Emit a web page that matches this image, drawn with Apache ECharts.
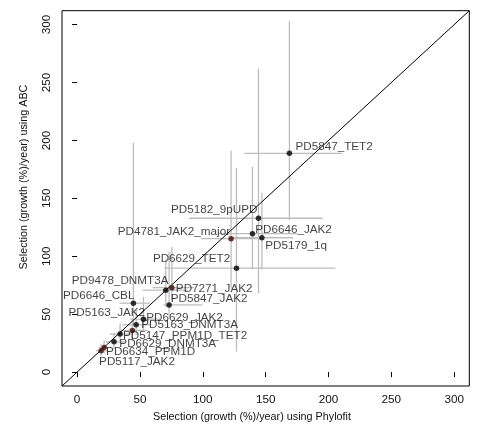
<!DOCTYPE html>
<html>
<head>
<meta charset="utf-8">
<script src="https://cdn.jsdelivr.net/npm/echarts@6/dist/echarts.min.js"></script>
<style>
  html, body { margin: 0; padding: 0; background: #fff; }
  #chart { width: 480px; height: 436px; }
</style>
</head>
<body>
<div id="chart"></div>
<script>
// Clone selection estimates: Phylofit (x) against ABC (y), with interval bars
const names = [
  'PD5847_TET2', 'PD5182_9pUPD', 'PD6646_JAK2', 'PD5179_1q', 'PD4781_JAK2_major',
  'PD6629_TET2', 'PD9478_DNMT3A', 'PD7271_JAK2', 'PD5847_JAK2', 'PD6646_CBL',
  'PD6629_JAK2', 'PD5163_DNMT3A', 'PD5163_JAK2', 'PD5147_PPM1D_TET2', 'PD6629_DNMT3A',
  'PD6634_PPM1D', 'PD5117_JAK2'
];
const phylofit     = [168.9, 144.3, 139.5, 147.0, 122.5, 126.8, 70.6, 75.4, 73.2, 44.8, 52.8, 47.0, 44.0, 34.2, 29.4, 21.5, 19.1];
const phylofitLow  = [133.2,  89.1, 112.0, 124.0,  98.4,  69.2, 52.0, 60.0, 68.7, 34.0, 42.0, 36.0, 34.0, 26.0, 23.0, 17.0, 15.0];
const phylofitHigh = [210.6, 195.2, 175.0, 172.0, 148.0, 205.3, 88.0, 93.0, 99.7, 58.0, 66.0, 58.0, 56.0, 44.0, 38.0, 27.0, 24.0];
const abc          = [188.9, 132.8, 119.5, 116.0, 115.2,  89.7, 70.7, 72.9, 58.0, 59.5, 45.7, 40.8, 35.9, 32.8, 26.1, 21.2, 18.4];
const abcLow       = [131.3,  68.1,  88.8,  88.8,  72.0,  17.8, 56.0, 62.0, 48.0, 40.0, 36.0, 32.0, 27.0, 25.0, 20.0, 16.0, 14.0];
const abcHigh      = [303.2, 262.1, 177.3, 154.9, 191.1, 176.4, 98.0, 108.0, 104.0, 198.0, 65.0, 54.0, 46.0, 42.0, 34.0, 27.0, 24.0];
const darkRedPoints = ['PD4781_JAK2_major', 'PD7271_JAK2', 'PD5163_JAK2', 'PD6634_PPM1D', 'PD5117_JAK2'];
const tickValues = [0, 50, 100, 150, 200, 250, 300];
const axisRange = [-12, 312];

// Label placement per point: text alignment and pixel offset from the dot
const labelPlacement = {
  'PD5847_TET2':       ['left',   6,  -7],
  'PD5182_9pUPD':      ['right', -1,  -8],
  'PD6646_JAK2':       ['left',   2.7, -4.4],
  'PD5179_1q':         ['left',   3.3,  8],
  'PD4781_JAK2_major': ['right', -1,  -7],
  'PD6629_TET2':       ['right', -6.3, -9],
  'PD9478_DNMT3A':     ['right',  2.6, -9.3],
  'PD7271_JAK2':       ['left',   4,    1],
  'PD5847_JAK2':       ['left',   1.7, -6],
  'PD6646_CBL':        ['right',  1,  -7.6],
  'PD6629_JAK2':       ['left',   2.7, -1],
  'PD5163_DNMT3A':     ['left',   5,    0],
  'PD5163_JAK2':       ['right', 12.7, -17.4],
  'PD5147_PPM1D_TET2': ['left',   3,    1.5],
  'PD6629_DNMT3A':     ['left',   5.3,  1.5],
  'PD6634_PPM1D':      ['left',   2,    4.6],
  'PD5117_JAK2':       ['left',  -2,   11]
};

const FONT = '"Liberation Sans", Arial, Helvetica, sans-serif';

const barData = names.map((n, i) => [phylofit[i], abc[i], phylofitLow[i], phylofitHigh[i], abcLow[i], abcHigh[i]]);

const pointData = names.map((n, i) => {
  const p = labelPlacement[n];
  return {
    name: n,
    value: [phylofit[i], abc[i]],
    itemStyle: { color: darkRedPoints.includes(n) ? '#3c0606' : '#000' },
    label: { align: p[0], offset: [p[1], p[2]] }
  };
});

const chart = echarts.init(document.getElementById('chart'), null, { renderer: 'canvas' });

const valueAxis = (isX) => ({
  type: 'value',
  min: axisRange[0],
  max: axisRange[1],
  splitLine: { show: false },
  axisLine: { show: false },
  axisTick: {
    show: true,
    customValues: tickValues,
    length: 5,
    lineStyle: { color: '#000', width: 1 }
  },
  axisLabel: {
    customValues: tickValues,
    rotate: isX ? 0 : 90,
    margin: isX ? 8 : 9,
    color: '#111',
    fontSize: 11.7,
    fontFamily: FONT
  }
});

chart.setOption({
  animation: false,
  backgroundColor: '#fff',
  grid: {
    left: 62, right: 10.7, top: 10.7, bottom: 50,
    show: true, borderColor: '#000', borderWidth: 1
  },
  xAxis: valueAxis(true),
  yAxis: valueAxis(false),
  graphic: [
    {
      type: 'text', x: 252, y: 416.7,
      style: {
        text: 'Selection (growth (%)/year) using Phylofit',
        fill: '#111', font: '10.8px ' + FONT, align: 'center', verticalAlign: 'middle'
      }
    },
    {
      type: 'text', x: 24, y: 177, rotation: Math.PI / 2,
      style: {
        text: 'Selection (growth (%)/year) using ABC',
        fill: '#111', font: '10.8px ' + FONT, align: 'center', verticalAlign: 'middle'
      }
    }
  ],
  series: [
    {
      type: 'custom',
      data: barData,
      z: 1,
      renderItem: function (params, api) {
        const x = api.value(0), y = api.value(1);
        const a = api.coord([api.value(2), y]);
        const b = api.coord([api.value(3), y]);
        const c = api.coord([x, api.value(4)]);
        const d = api.coord([x, api.value(5)]);
        const style = { stroke: '#bdbdbd', lineWidth: 1.3 };
        return {
          type: 'group',
          children: [
            { type: 'line', shape: { x1: a[0], y1: a[1], x2: b[0], y2: b[1] }, style: style },
            { type: 'line', shape: { x1: c[0], y1: c[1], x2: d[0], y2: d[1] }, style: style }
          ]
        };
      }
    },
    {
      type: 'line',
      data: [[axisRange[0], axisRange[0]], [axisRange[1], axisRange[1]]],
      symbol: 'none',
      z: 2,
      lineStyle: { color: '#000', width: 1 }
    },
    {
      type: 'scatter',
      data: pointData,
      symbol: 'circle',
      symbolSize: 5.5,
      z: 3,
      label: {
        show: true,
        position: 'inside',
        verticalAlign: 'middle',
        formatter: '{b}',
        color: '#111',
        fontSize: 11.7,
        fontFamily: FONT
      }
    }
  ]
});
</script>
</body>
</html>
